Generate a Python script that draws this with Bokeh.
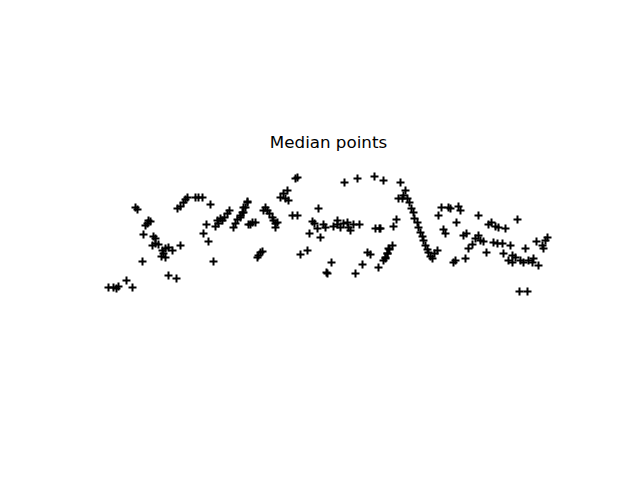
from bokeh.plotting import figure
from bokeh.models import Range1d
from bokeh.embed import file_html
from bokeh.resources import INLINE

# point positions (x to the right, y downward)
xs = [108, 113, 116, 118, 126, 132, 135, 137, 148, 147, 145, 150, 143, 153, 155,
      152, 155, 158, 162, 165, 168, 172, 163, 161, 165, 180, 142, 168, 176,
      177, 180, 183, 185, 187, 195, 198, 202, 210, 206, 203, 208, 213,
      215, 218, 222, 224, 227, 229, 217, 220, 233, 235, 237, 240, 243, 245, 247, 248,
      297, 295, 247, 243, 242, 240, 252, 255, 250,
      265, 267, 269, 272, 273, 275, 275, 277, 263,
      280, 283, 287, 285, 288, 292, 297,
      258, 260, 262, 257, 300, 307, 318,
      312, 314, 317, 309, 320, 323, 325,
      333, 337, 337, 340, 343, 347, 348, 350, 353, 359,
      344, 357, 374, 383, 375, 379,
      367, 370, 362, 355, 378, 385, 387, 388, 383, 327, 331, 326,
      400, 405, 403, 398, 402, 407, 409, 411, 413, 414, 417, 418, 420, 422, 423, 425,
      427, 428, 430, 432, 434, 437,
      380, 393, 396, 392, 389, 387, 385,
      441, 438, 448, 450, 458, 460, 443, 445, 456, 478,
      463, 466, 468, 472, 475, 478, 480, 483, 486,
      453, 455, 465,
      488, 491, 495, 498, 505, 517,
      493, 497, 502, 510, 503, 512, 515, 508, 512,
      520, 523, 528, 532, 533, 538, 525,
      536, 543, 545, 547, 542, 519, 527]
ys = [287, 287, 288, 286, 280, 287, 207, 209, 220, 223, 225, 221, 234, 236, 238,
      245, 243, 244, 250, 248, 247, 250, 253, 256, 257, 245, 261, 275, 278,
      208, 206, 202, 199, 197, 197, 197, 197, 204, 224, 233, 241, 261,
      226, 223, 220, 217, 213, 210, 220, 218, 227, 223, 219, 215, 212, 207, 201, 224,
      177, 178, 202, 207, 212, 217, 222, 222, 224,
      207, 210, 213, 217, 220, 223, 227, 222, 210,
      197, 193, 190, 198, 200, 215, 215,
      255, 252, 251, 257, 254, 250, 208,
      221, 223, 228, 233, 237, 224, 227,
      226, 224, 220, 227, 223, 222, 227, 230, 224, 224,
      182, 178, 176, 180, 228, 228,
      252, 254, 264, 273, 267, 257, 253, 248, 260, 273, 262, 272,
      182, 190, 195, 198, 198, 198, 202, 208, 212, 218, 222, 227, 232, 236, 240, 245,
      249, 252, 256, 258, 253, 250,
      228, 226, 219, 245, 249, 253, 258,
      207, 215, 207, 208, 206, 210, 229, 233, 222, 215,
      235, 233, 248, 244, 238, 235, 240, 241, 252,
      262, 260, 258,
      224, 222, 226, 227, 228, 219,
      242, 243, 243, 245, 253, 255, 257, 260, 262,
      260, 262, 260, 262, 258, 265, 248,
      241, 248, 240, 237, 245, 291, 291]

p = figure(width=624, height=464, output_backend="svg", toolbar_location=None,
           x_range=Range1d(80, 576), y_range=Range1d(331, 154),
           title="Median points",
           min_border_left=80, min_border_right=48,
           min_border_top=154, min_border_bottom=133)
p.axis.visible = False
p.grid.visible = False
p.outline_line_color = None
p.background_fill_color = "white"
p.border_fill_color = "white"
p.title.align = "center"
p.title.text_font = "DejaVu Sans"
p.title.text_font_style = "normal"
p.title.text_font_size = "16.7px"
p.title.text_color = "black"
p.title.standoff = 5

p.scatter(xs, ys, marker="cross", size=8, line_color="black", line_width=2)

open("out.html", "w").write(file_html(p, INLINE))
